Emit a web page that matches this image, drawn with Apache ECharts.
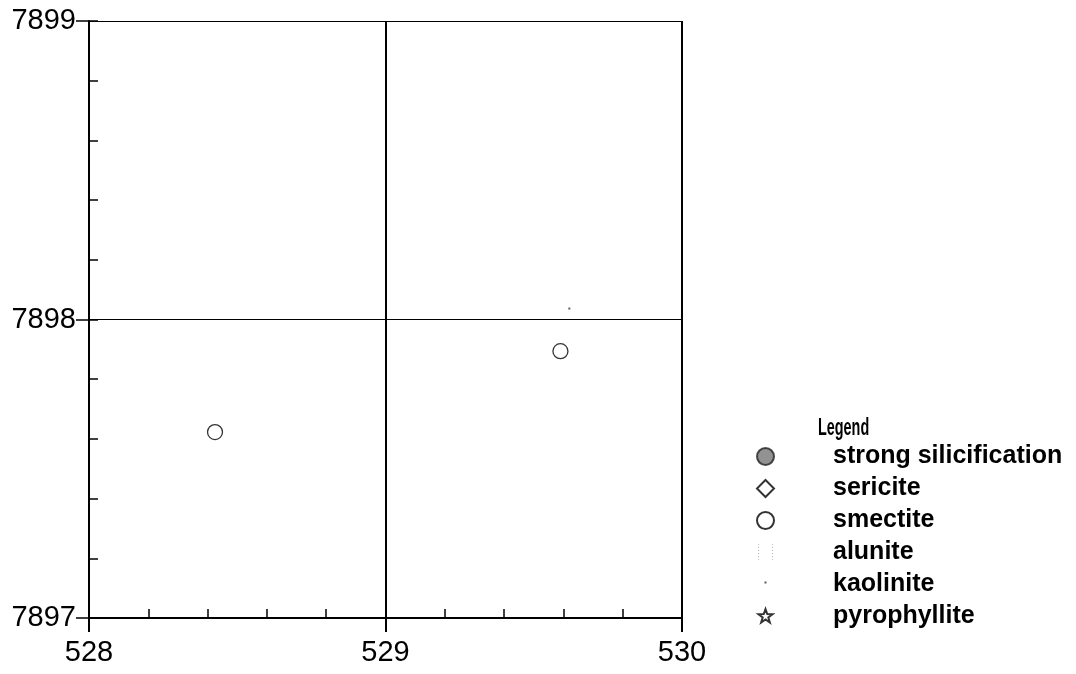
<!DOCTYPE html>
<html>
<head>
<meta charset="utf-8">
<script src="https://cdn.jsdelivr.net/npm/echarts@6/dist/echarts.min.js"></script>
<style>
  html, body { margin: 0; padding: 0; background: #fff; }
  #main { width: 1076px; height: 674px; }
</style>
</head>
<body>
<div id="main"></div>
<script>
// axis ranges (km grid)
var xRange = [528, 530]
var yRange = [7897, 7899]

// legend entries, in order
var legendNames = ['strong silicification', 'sericite', 'smectite', 'alunite', 'kaolinite', 'pyrophyllite']

// sample points per mineral
var silicificationPts = []
var sericitePts = []
var smectitePts = [[528.425, 7897.623], [529.59, 7897.894]]
var alunitePts = []
var kaolinitePts = [[529.62, 7898.03]]
var pyrophyllitePts = []

// symbols
var starPath = 'path://M-1,-1 M15,15 M7,0 L8.65,4.73 L13.66,4.84 L9.66,7.87 L11.11,12.66 L7,9.8 L2.89,12.66 L4.34,7.87 L0.34,4.84 L5.35,4.73 Z'
var dotPath = 'path://M0,0 M17,17 M7.5,5.5h2v2h-2z'
var aluPath = 'path://M0,0 M17,17'
for (var yy = 0; yy < 17; yy += 3) {
  aluPath += ' M1,' + yy + 'h1v1h-1z M15,' + yy + 'h1v1h-1z'
}

var axisFont = 'Liberation Sans'

var chart = echarts.init(document.getElementById('main'))

function mkSeries(name, pts, symbol, size, style) {
  return {
    name: name,
    type: 'scatter',
    xAxisIndex: 0,
    yAxisIndex: 0,
    data: pts,
    symbol: symbol,
    symbolSize: size,
    symbolKeepAspect: true,
    itemStyle: style,
    z: 5
  }
}

chart.setOption({
  backgroundColor: '#fff',
  animation: false,
  graphic: [{
    type: 'text',
    left: 818,
    top: 416,
    scaleX: 0.6,
    style: {
      text: 'Legend',
      font: 'bold 24px "Liberation Sans"',
      fill: '#000'
    }
  }],
  legend: {
    orient: 'vertical',
    left: 751,
    top: 439,
    itemWidth: 17,
    itemHeight: 17,
    itemGap: 7,
    symbolKeepAspect: true,
    data: legendNames,
    selectedMode: false,
    textStyle: {
      fontFamily: axisFont,
      fontSize: 25,
      fontWeight: 'bold',
      color: '#000',
      padding: [0, 0, 0, 54]
    }
  },
  grid: {
    left: 89,
    right: 394,
    top: 21,
    bottom: 56,
    containLabel: false
  },
  xAxis: [{
    type: 'value',
    position: 'bottom',
    min: xRange[0],
    max: xRange[1],
    interval: 1,
    axisLine: { show: true, lineStyle: { color: '#000', width: 2 } },
    axisTick: { show: true, inside: false, length: 14, lineStyle: { color: '#000', width: 2 } },
    axisLabel: { margin: 20, fontSize: 29, fontFamily: axisFont, color: '#000', formatter: function (v) { return String(v) } },
    splitLine: { show: true, lineStyle: { color: '#000', width: 2 } }
  }, {
    type: 'value',
    position: 'bottom',
    min: xRange[0],
    max: xRange[1],
    interval: 0.2,
    axisLine: { show: false },
    axisTick: { show: true, inside: true, length: 9, lineStyle: { color: '#000', width: 1.5 } },
    axisLabel: { show: false },
    splitLine: { show: false }
  }],
  yAxis: [{
    type: 'value',
    position: 'left',
    min: yRange[0],
    max: yRange[1],
    interval: 1,
    axisLine: { show: true, lineStyle: { color: '#000', width: 2 } },
    axisTick: { show: true, inside: false, length: 13, lineStyle: { color: '#000', width: 1.5 } },
    axisLabel: { margin: 13, fontSize: 29, fontFamily: axisFont, color: '#000', formatter: function (v) { return String(v) } },
    splitLine: { show: true, lineStyle: { color: '#000', width: 1 } }
  }, {
    type: 'value',
    position: 'left',
    min: yRange[0],
    max: yRange[1],
    interval: 0.2,
    axisLine: { show: false },
    axisTick: { show: true, inside: true, length: 9, lineStyle: { color: '#000', width: 1.5 } },
    axisLabel: { show: false },
    splitLine: { show: false }
  }],
  series: [
    mkSeries(legendNames[0], silicificationPts, 'circle', 15, { color: '#777', borderColor: '#222', borderWidth: 1, borderType: 'dashed' }),
    mkSeries(legendNames[1], sericitePts, 'diamond', 17, { color: '#fff', borderColor: '#000', borderWidth: 1.5 }),
    mkSeries(legendNames[2], smectitePts, 'circle', 15, { color: 'rgba(255,255,255,0)', borderColor: '#000', borderWidth: 1.3 }),
    mkSeries(legendNames[3], alunitePts, aluPath, 17, { color: '#aaa' }),
    mkSeries(legendNames[4], kaolinitePts, dotPath, 17, { color: '#333' }),
    mkSeries(legendNames[5], pyrophyllitePts, starPath, 17, { color: '#fff', borderColor: '#000', borderWidth: 1 })
  ]
})
</script>
</body>
</html>
